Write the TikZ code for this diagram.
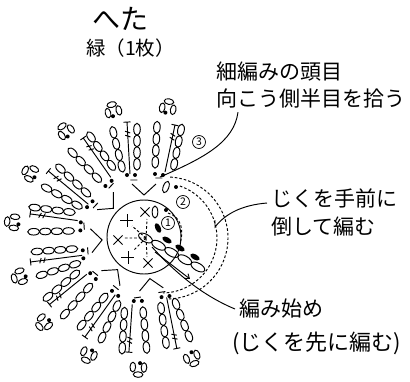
\documentclass[tikz,border=0pt]{standalone}
\usepackage{fontspec}
\setmainfont{Noto Sans CJK JP}
\usetikzlibrary{arrows.meta}
\begin{document}
\begin{tikzpicture}[x=1pt,y=1pt,line width=0.95pt,
	dsh/.style={dash pattern=on 2.6pt off 2pt},
	lbl/.style={anchor=west,inner sep=4pt,font=\fontsize{21pt}{21pt}\selectfont},
	cnum/.style={circle,draw,line width=0.7pt,inner sep=0pt,minimum size=13pt,font=\fontsize{10.5pt}{10.5pt}\selectfont},
	sc/.pic={\draw (-6.5,0) -- (6.5,0) (0,-6.5) -- (0,6.5);}]
	\useasboundingbox (-144,-144) rectangle (266,237);
	\foreach \a in {0,47,94,141,188} {
		\begin{scope}[rotate=\a]
		\draw (-12,53) -- (0,42) -- (12,53) (-13.5,57) -- (-6.5,57) (11.5,59) -- (18.5,59);
		\foreach \x/\y in {-17/62,-9/62,11/63,19/62} \fill (\x,\y) circle (2);
		\foreach \x/\y/\r in {-21/65/103.7,-7/67/90,11/69/87.3,29/67/78.7}
			\foreach \pos in {5.9,17.5,29.1,40.7}
				\draw[shift={(\x,\y)},rotate=\r] (\pos,0) ellipse (6 and 3.3);
		\foreach \x/\y/\r/\l in {-14/63/93.3/52,21/65/78/48}
			\draw[shift={(\x,\y)},rotate=\r] (0,0) -- (\l,0) (\l,-3.5) -- (\l,3.5) (\l-15,-2.5) -- (\l-13,2.5) (\l-11,-2.5) -- (\l-9,2.5);
		\foreach \x/\y/\r in {-31/127/104,24/130/79.5} {
			\draw[shift={(\x,\y)},rotate=\r] (5.5,0) ellipse (2.8 and 4.8) (-1.8,5.6) ellipse (4.8 and 2.8) (-1.8,-5.6) ellipse (4.8 and 2.8);
			\fill[shift={(\x,\y)},rotate=\r] (-6,1.5) circle (2);
		}
		\end{scope}
	}
	\draw (0,0) circle (37);
	\pic at (-17,17) {sc};
	\pic at (-16,-20) {sc};
	\pic[rotate=45] at (1,25) {sc};
	\pic[rotate=45] at (-26,-3) {sc};
	\pic[rotate=45] at (4,-26) {sc};
	\coordinate (cen) at (2,-1);
	\draw[dsh] (cen) -- (3,18) (cen) -- (-19,-1) (cen) -- (-12,11) (cen) -- (-11,-14) (cen) -- (3,-20);
	\draw (11,25) ellipse (2.8 and 6);
	\fill (22,27) circle (2);
	\draw[dsh] (24,24) .. controls (38,20) and (40,5) .. (36,-6);
	\foreach \k in {0,...,4} \draw[shift={(1.5+13.1*\k,-1-7.25*\k)},rotate=-29] (0,0) ellipse (7.6 and 3.8);
	\fill[shift={(14,9)},rotate=-65] (0,0) ellipse (5.2 and 2.7);
	\foreach \x/\y in {23/-3,36/-11,51/-20} \fill[shift={(\x,\y)},rotate=-30] (0,0) ellipse (5.2 and 2.7);
	\draw[shift={(22,50)},rotate=70] (0,0) ellipse (6 and 2.8);
	\fill (32,50) circle (2);
	\draw[dsh] (18,-1) ++(71:55) arc[start angle=71,end angle=-89,radius=55];
	\draw[dsh] (23,-1) ++(87:61) arc[start angle=87,end angle=-90,radius=61];
	\draw[-{Straight Barb[length=4pt,width=6pt]}] (11,-15) -- (46,-42);
	\node[cnum] (n1) at (24,14) {1};
	\node[cnum] (n2) at (39,35) {2};
	\node[cnum] (n3) at (55,95) {3};
	\node[font=\fontsize{28pt}{28pt}\selectfont] (ttl) at (-23.5,218.5) {へた};
	\node[font=\fontsize{19.5pt}{19.5pt}\selectfont] (clr) at (-13.5,189) {緑（1枚）};
	\node[lbl] (l1) at (68,165.5) {細編みの頭目};
	\node[lbl] (l2) at (68,138) {向こう側半目を拾う};
	\node[lbl] (l3) at (123,39) {じくを手前に};
	\node[lbl] (l4) at (123,10) {倒して編む};
	\node[lbl] (l5) at (91,-72) {編み始め};
	\node[lbl,font=\fontsize{22pt}{22pt}\selectfont] (l6) at (84,-106) {(じくを先に編む)};
	\coordinate (hm) at (16,60);
	\coordinate (jk) at (71,10);
	\coordinate (st) at (8,-10);
	\draw (l2.south west) ++(26,1) .. controls +(-4,-30) and +(44,19) .. (hm);
	\draw (l3.west) ++(0,-5) .. controls +(-24,-2) and +(11,14) .. (jk) -- ++(0,7);
	\draw (st) .. controls +(20,-22) and +(-36,15) .. (l5.west);
\end{tikzpicture}
\end{document}
